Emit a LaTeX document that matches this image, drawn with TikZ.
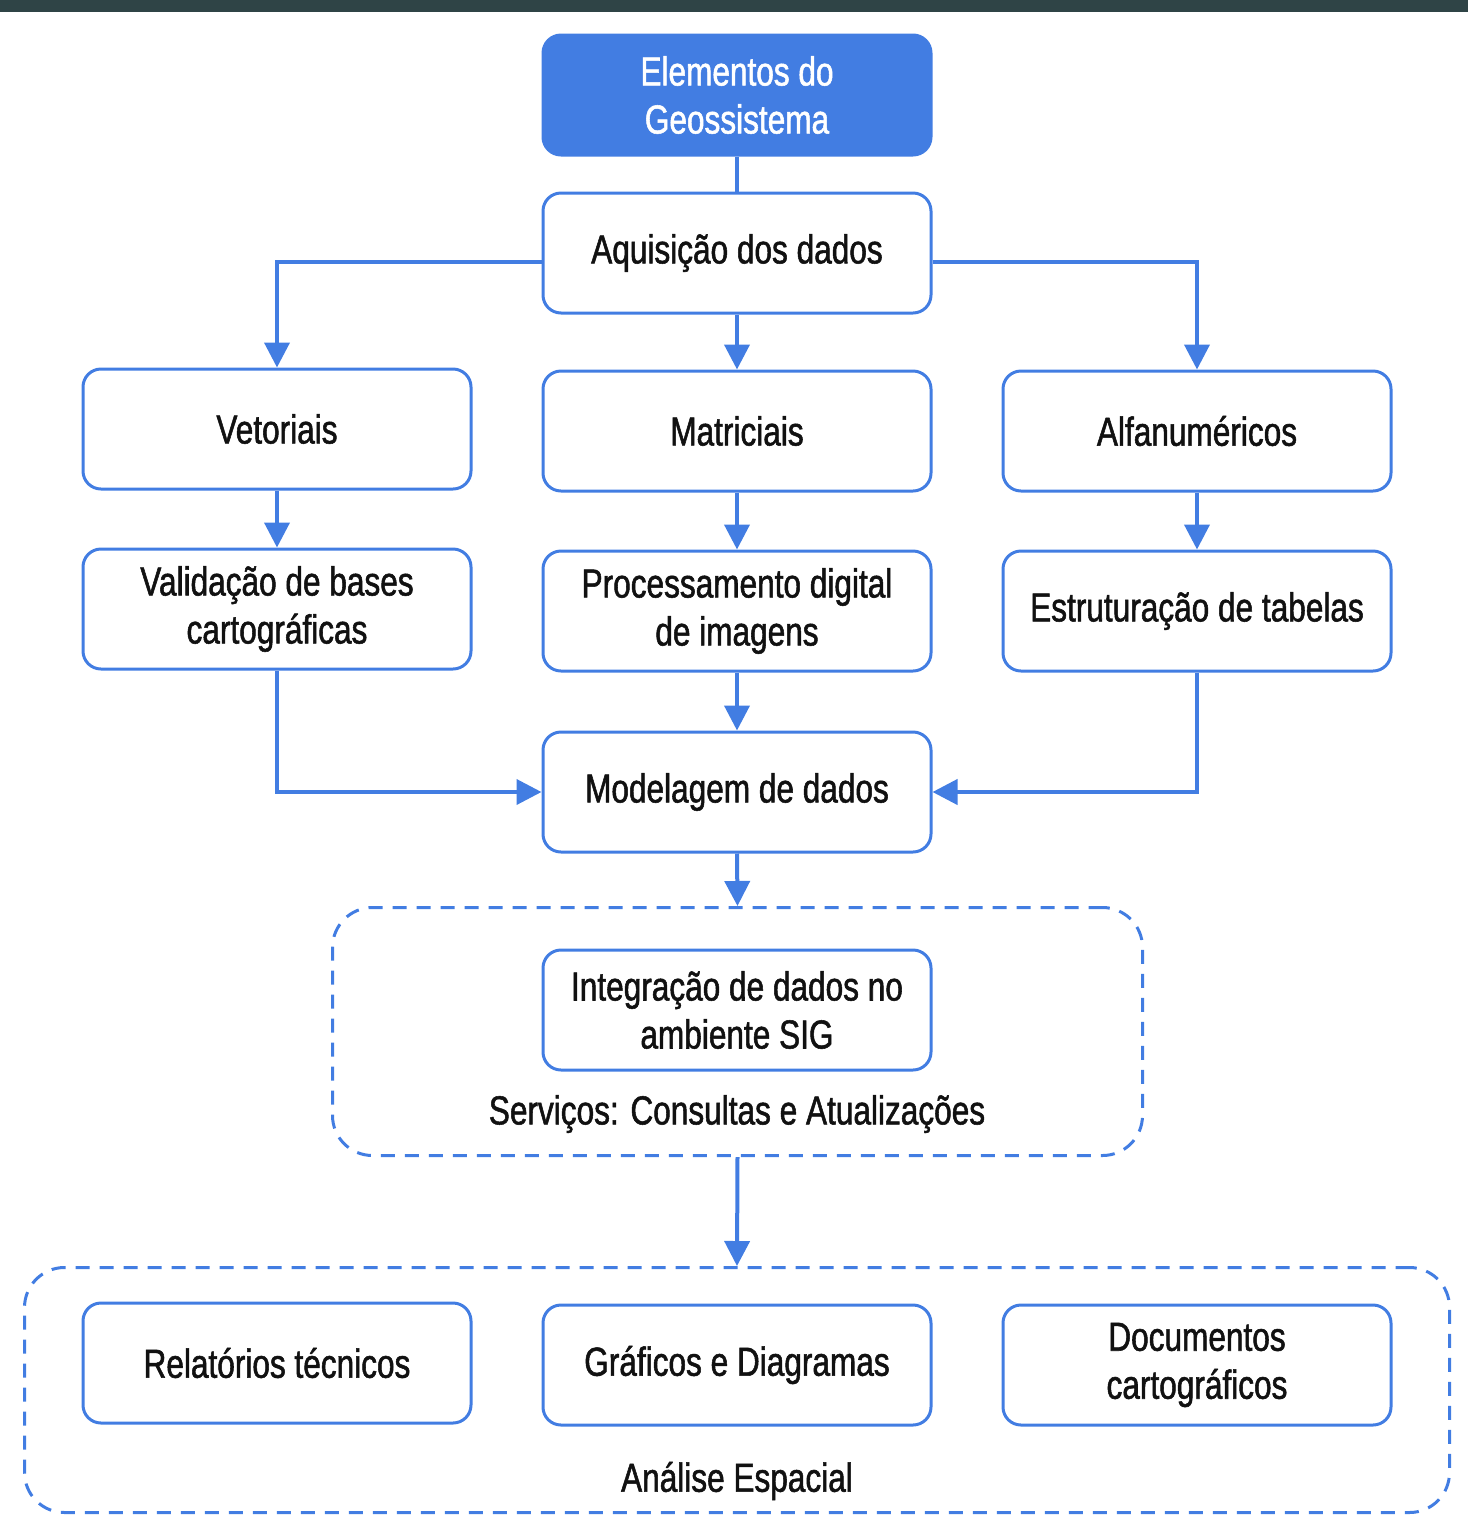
\documentclass[tikz,border=0pt]{standalone}
\usepackage{fontspec}
\setmainfont[FakeStretch=0.78,FakeBold=1.3]{Liberation Sans}
\usetikzlibrary{arrows.meta}
\definecolor{blu}{RGB}{66,125,226}
\definecolor{band}{RGB}{47,68,70}
\definecolor{txt}{RGB}{17,17,17}
\begin{document}
\begin{tikzpicture}[x=1pt,y=-1pt,
  box/.style={draw=blu, line width=3pt, rounded corners=18pt, minimum width=388pt, minimum height=120pt, align=center, text=txt, font=\fontsize{40.5}{48}\selectfont\mdseries, inner sep=0pt},
  topbox/.style={box, fill=blu, text=white},
  dbox/.style={draw=blu, line width=3pt, rounded corners=40pt, dash pattern=on 14pt off 10pt, inner sep=0pt},
  lbl/.style={text=txt, font=\fontsize{40.5}{48}\selectfont\mdseries, inner sep=0pt},
  arr/.style={draw=blu, line width=4pt, -{Triangle[length=25pt,width=25pt]}},
  ln/.style={draw=blu, line width=4pt}]
\useasboundingbox (0,0) rectangle (1468,1535);
\fill[band] (0,0) rectangle (1468,12);

\node[topbox] (top) at (737,95) {Elementos do\\Geossistema};
\node[box] (aq) at (737,253) {Aquisição dos dados};
\node[box] (vet) at (277,429) {Vetoriais};
\node[box] (mat) at (737,431) {Matriciais};
\node[box] (alf) at (1197,431) {Alfanuméricos};
\node[box] (val) at (277,609) {Validação de bases\\cartográficas};
\node[box] (pro) at (737,611) {Processamento digital\\de imagens};
\node[box] (est) at (1197,611) {Estruturação de tabelas};
\node[box] (mod) at (737,792) {Modelagem de dados};

\node[dbox, minimum width=810pt, minimum height=248pt] (g1) at (737.5,1031.5) {};
\node[box] (int) at (737,1010) {Integração de dados no\\ambiente SIG};
\node[lbl] (serv) at (737,1114) {Serviços: Consultas e Atualizações};

\node[dbox, minimum width=1425pt, minimum height=245pt] (g2) at (737,1390) {};
\node[box] (rel) at (277,1363) {Relatórios técnicos};
\node[box] (gra) at (737,1365) {Gráficos e Diagramas};
\node[box] (doc) at (1197,1365) {Documentos\\cartográficos};
\node[lbl] (ana) at (737,1481) {Análise Espacial};

\draw[ln] (top.south) -- (aq.north);
\draw[arr] ([yshift=-9pt]aq.west) -| (vet.north);
\draw[arr] ([yshift=-9pt]aq.east) -| (alf.north);
\draw[arr] (aq.south) -- (mat.north);
\draw[arr] (vet.south) -- (val.north);
\draw[arr] (mat.south) -- (pro.north);
\draw[arr] (alf.south) -- (est.north);
\draw[arr] (pro.south) -- (mod.north);
\draw[arr] (val.south) |- (mod.west);
\draw[arr] (est.south) |- (mod.east);
\draw[arr] (mod.south) -- (g1.north);
\draw[arr] (g1.south) -- (g2.north);
\end{tikzpicture}
\end{document}
